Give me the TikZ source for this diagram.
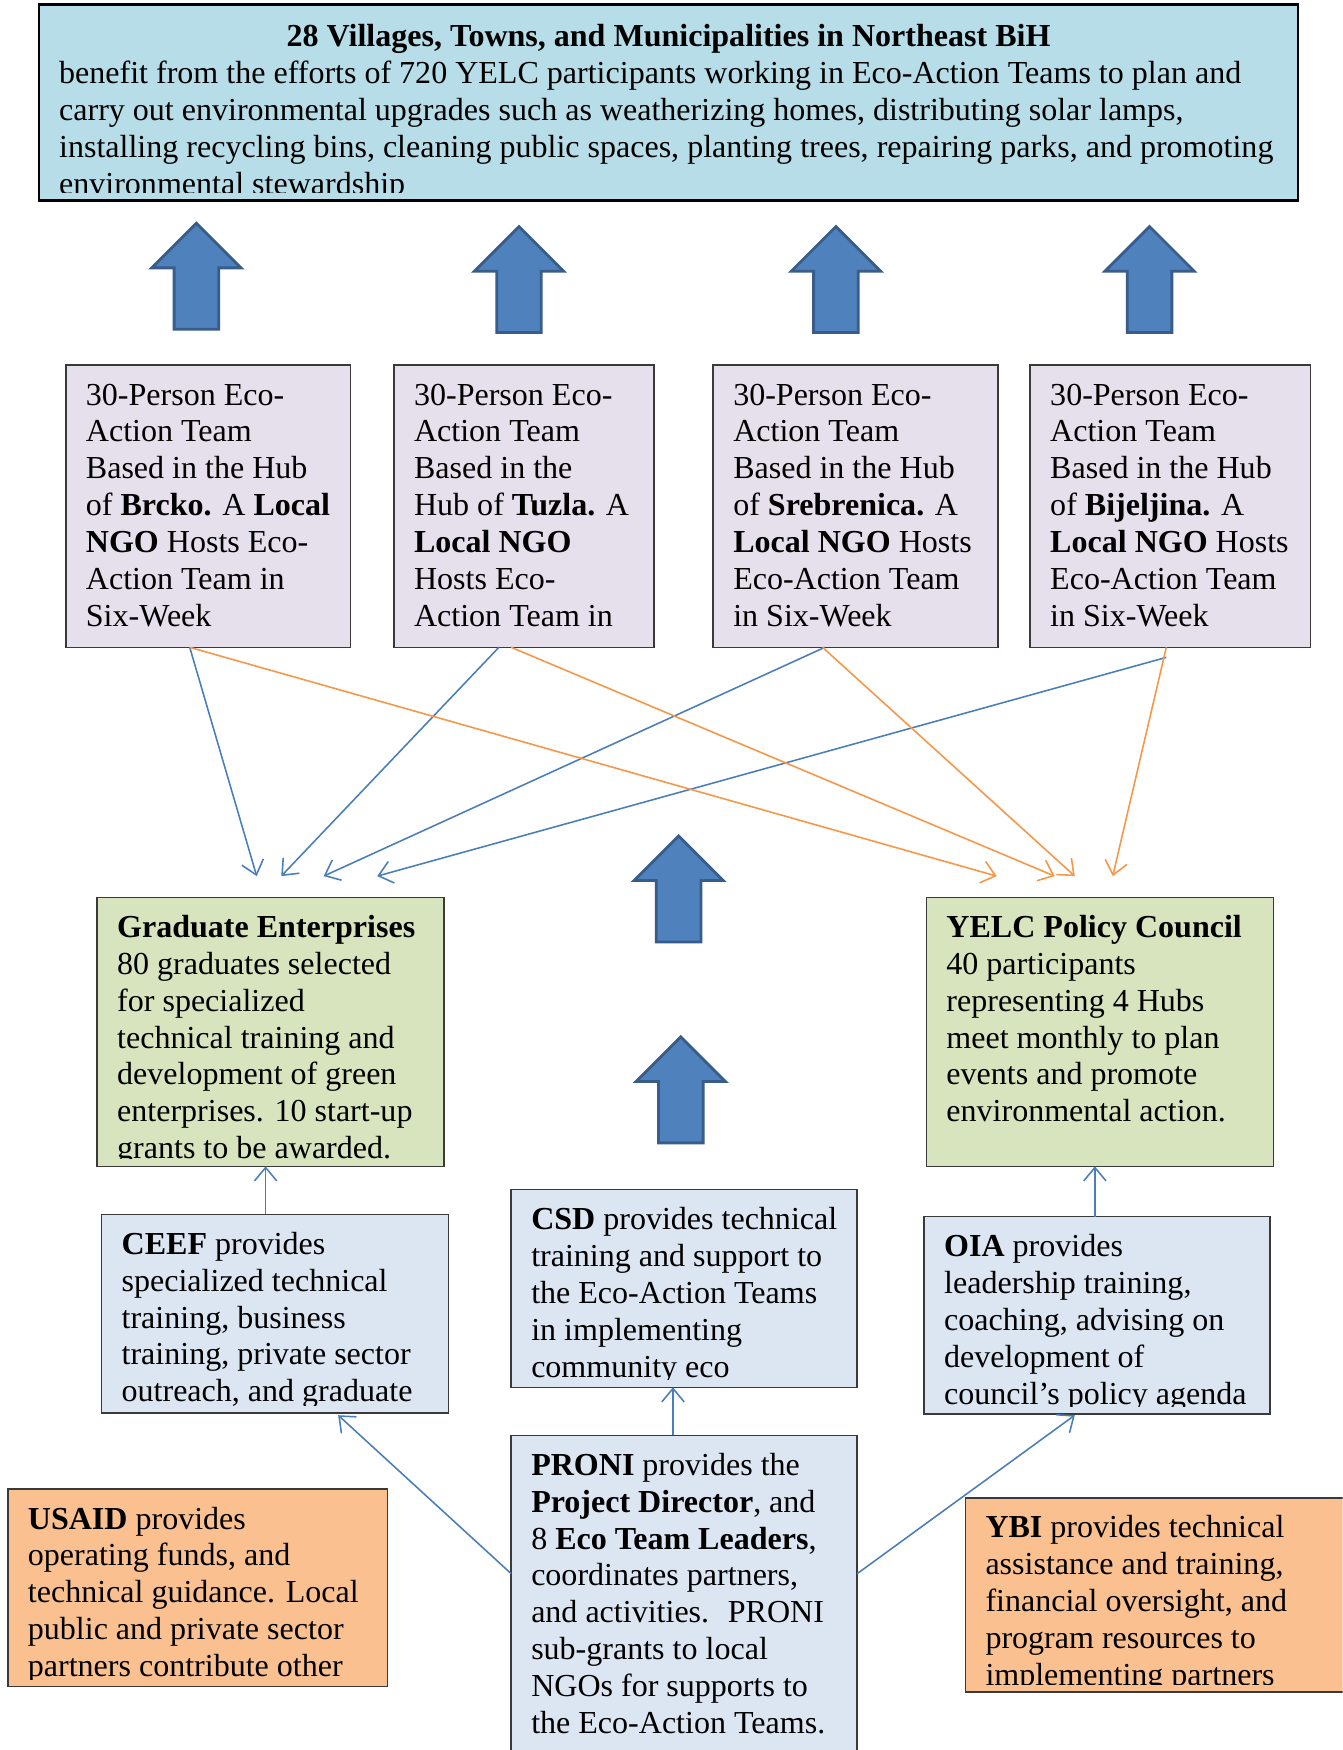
\documentclass[tikz,border=0pt]{standalone}
\usepackage{fontspec}
\setmainfont{Liberation Serif}
\usetikzlibrary{arrows.meta}
\definecolor{topfill}{HTML}{B7DDE8}
\definecolor{teamfill}{HTML}{E5E0EC}
\definecolor{greenfill}{HTML}{D7E4BD}
\definecolor{lbfill}{HTML}{DCE6F2}
\definecolor{orfill}{HTML}{FAC090}
\definecolor{arrfill}{HTML}{4F81BD}
\definecolor{arrline}{HTML}{385D8A}
\definecolor{conblue}{HTML}{4A7EBB}
\definecolor{conorange}{HTML}{F79646}
\definecolor{boxline}{HTML}{3A3A3A}
\newcommand\drawtextbox[7]{%
  \node[box, fill=#6, minimum width=#4pt, minimum height=#5pt] (#1) at (#2,-#3) {};
  \begin{scope}
    \clip (#2,-#3) rectangle (#2+#4,-#3-#5+6.6);
    \node[txt] (#1txt) at (#2+18,-#3-10) {\rule{0pt}{26pt}#7};
  \end{scope}
}
\begin{document}
\begin{tikzpicture}[x=1pt,y=1pt,
  box/.style={draw=boxline, line width=1.3pt, anchor=north west, inner sep=0pt, outer sep=0pt},
  txt/.style={anchor=north west, inner sep=0pt, outer sep=0pt, align=left, font=\fontsize{28.7pt}{33pt}\selectfont},
  bluecon/.style={draw=conblue, line width=1.4pt, -{Straight Barb[length=12pt,width=20pt,line width=1.4pt]}},
  orcon/.style={draw=conorange, line width=1.4pt, -{Straight Barb[length=12pt,width=20pt,line width=1.4pt]}},
  blockup/.pic={\path[fill=arrfill, draw=arrline, line width=2.5pt, line join=miter]
    (0,0) -- (40,-40) -- (20,-40) -- (20,-95) -- (-20,-95) -- (-20,-40) -- (-40,-40) -- cycle;}
]
\clip (0,0) rectangle (1203,-1568);
\fill[white] (0,0) rectangle (1203,-1568);

% top box
\node[box, draw=black, line width=2.5pt, fill=topfill, minimum width=1128pt, minimum height=176pt] (top) at (35,-4) {};
\node[anchor=base, inner sep=0pt, font=\fontsize{28.7pt}{33pt}\selectfont\bfseries] (toptitle) at (599,-42) {28 Villages, Towns, and Municipalities in Northeast BiH};
\begin{scope}
  \clip (35,-4) rectangle (1163,-172.5);
  \node[txt] (toptxt) at (53,-49) {\rule{0pt}{26pt}benefit from the efforts of 720 YELC participants working in Eco-Action Teams to plan and\\
carry out environmental upgrades such as weatherizing homes, distributing solar lamps,\\
installing recycling bins, cleaning public spaces, planting trees, repairing parks, and promoting\\
environmental stewardship};
\end{scope}

% block arrows
\pic at (176,-200) {blockup};
\pic at (465,-203) {blockup};
\pic at (749,-203) {blockup};
\pic at (1030,-203) {blockup};
\pic at (608,-749) {blockup};
\pic at (610,-929) {blockup};

% team boxes
\drawtextbox{t1}{59}{327}{255}{253}{teamfill}{30-Person Eco-\\Action Team\\Based in the Hub\\of \textbf{Brcko.} A \textbf{Local}\\\textbf{NGO} Hosts Eco-\\Action Team in\\Six-Week}
\drawtextbox{t2}{353}{327}{233}{253}{teamfill}{30-Person Eco-\\Action Team\\Based in the\\Hub of \textbf{Tuzla.} A\\\textbf{Local NGO}\\Hosts Eco-\\Action Team in}
\drawtextbox{t3}{639}{327}{255}{253}{teamfill}{30-Person Eco-\\Action Team\\Based in the Hub\\of \textbf{Srebrenica.} A\\\textbf{Local NGO} Hosts\\Eco-Action Team\\in Six-Week}
\drawtextbox{t4}{923}{327}{251}{253}{teamfill}{30-Person Eco-\\Action Team\\Based in the Hub\\of \textbf{Bijeljina.} A\\\textbf{Local NGO} Hosts\\Eco-Action Team\\in Six-Week}

% green boxes
\drawtextbox{ge}{87}{804}{311}{241}{greenfill}{\textbf{Graduate Enterprises}\\80 graduates selected\\for specialized\\technical training and\\development of green\\enterprises. 10 start-up\\grants to be awarded.}
\drawtextbox{yelc}{830}{804}{311}{241}{greenfill}{\textbf{YELC Policy Council}\\40 participants\\representing 4 Hubs\\meet monthly to plan\\events and promote\\environmental action.}

% light blue boxes
\drawtextbox{ceef}{91}{1088}{311}{178}{lbfill}{\textbf{CEEF} provides\\specialized technical\\training, business\\training, private sector\\outreach, and graduate}
\drawtextbox{csd}{458}{1066}{310}{177}{lbfill}{\textbf{CSD} provides technical\\training and support to\\the Eco-Action Teams\\in implementing\\community eco}
\drawtextbox{oia}{828}{1090}{310}{177}{lbfill}{\textbf{OIA} provides\\leadership training,\\coaching, advising on\\development of\\council’s policy agenda}
\drawtextbox{proni}{458}{1286}{310}{300}{lbfill}{\textbf{PRONI} provides the\\\textbf{Project Director}, and\\8 \textbf{Eco Team Leaders},\\coordinates partners,\\and activities.~ PRONI\\sub-grants to local\\NGOs for supports to\\the Eco-Action Teams.}

% orange boxes
\drawtextbox{usaid}{7}{1334}{340}{177}{orfill}{\textbf{USAID} provides\\operating funds, and\\technical guidance. Local\\public and private sector\\partners contribute other}
\drawtextbox{ybi}{865}{1342}{345}{174}{orfill}{\textbf{YBI} provides technical\\assistance and training,\\financial oversight, and\\program resources to\\implementing partners}

% free connector ends
\coordinate (ge1) at (230,-785);
\coordinate (ge2) at (252,-785);
\coordinate (ge3) at (290,-785);
\coordinate (ge4) at (338,-785);
\coordinate (yc1) at (893,-785);
\coordinate (yc2) at (945,-785);
\coordinate (yc3) at (963,-785);
\coordinate (yc4) at (997,-785);

% team -> graduate enterprises
\draw[bluecon] ([xshift=111pt]t1.south west) -- (ge1);
\draw[bluecon] ([xshift=94pt]t2.south west) -- (ge2);
\draw[bluecon] ([xshift=100pt]t3.south west) -- (ge3);
\draw[bluecon] ([xshift=122pt,yshift=-9pt]t4.south west) -- (ge4);
% team -> policy council
\draw[orcon] ([xshift=111pt]t1.south west) -- (yc1);
\draw[orcon] ([xshift=105pt]t2.south west) -- (yc2);
\draw[orcon] ([xshift=98pt]t3.south west) -- (yc3);
\draw[orcon] ([xshift=122pt]t4.south west) -- (yc4);

% lower connectors
\draw[bluecon] ([xshift=147pt]ceef.north west) -- ([xshift=151pt]ge.south west);
\draw[bluecon] ([xshift=153pt]oia.north west) -- ([xshift=151pt]yelc.south west);
\draw[bluecon] ([xshift=145pt]proni.north west) -- ([xshift=145pt]csd.south west);
\draw[bluecon] ([yshift=-124pt]proni.north west) -- ([xshift=212pt,yshift=-2pt]ceef.south west);
\draw[bluecon] ([yshift=-124pt]proni.north east) -- ([xshift=135pt,yshift=-1pt]oia.south west);
\end{tikzpicture}
\end{document}
